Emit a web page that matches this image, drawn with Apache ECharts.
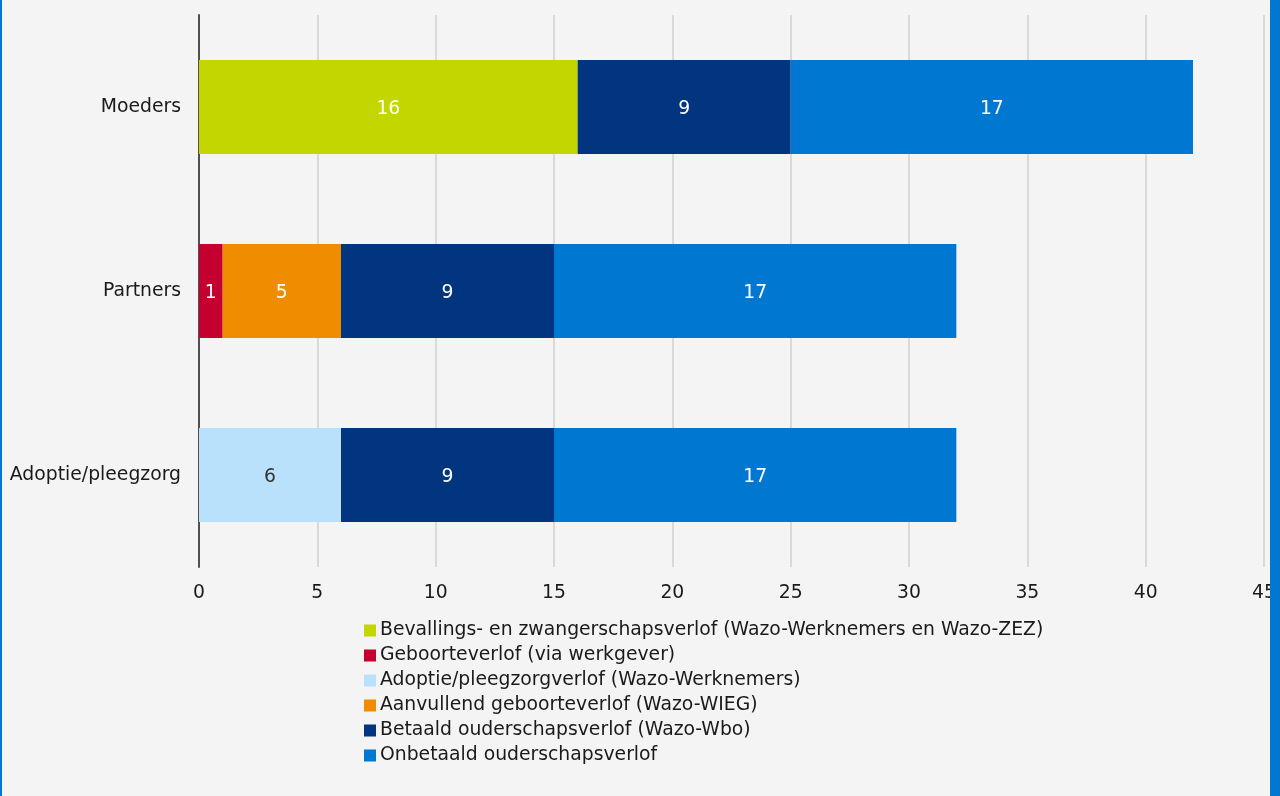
<!DOCTYPE html>
<html>
<head>
<meta charset="utf-8">
<script src="https://cdn.jsdelivr.net/npm/echarts@6/dist/echarts.min.js"></script>
<style>
html,body{margin:0;padding:0;background:#f4f4f4;}
#chart{width:1280px;height:796px;}
</style>
</head>
<body>
<div id="chart"></div>
<script>
const categories = ['Moeders', 'Partners', 'Adoptie/pleegzorg'];
const xTicks = [0, 5, 10, 15, 20, 25, 30, 35, 40, 45];
const seriesNames = [
  'Bevallings- en zwangerschapsverlof (Wazo-Werknemers en Wazo-ZEZ)',
  'Geboorteverlof (via werkgever)',
  'Adoptie/pleegzorgverlof (Wazo-Werknemers)',
  'Aanvullend geboorteverlof (Wazo-WIEG)',
  'Betaald ouderschapsverlof (Wazo-Wbo)',
  'Onbetaald ouderschapsverlof'
];
const bevallings = [16, '-', '-'];
const geboorte = ['-', 1, '-'];
const adoptie = ['-', '-', 6];
const aanvullend = ['-', 5, '-'];
const betaald = [9, 9, 9];
const onbetaald = [17, 17, 17];
const colors = ['#c4d600', '#c3002f', '#b9e1fb', '#f08c00', '#01357f', '#0077d0'];
const labelColors = ['#ffffff', '#ffffff', '#333333', '#ffffff', '#ffffff', '#ffffff'];

const FONT = '"DejaVu Sans", Verdana, sans-serif';
const FS = 18.8;
const dataSets = [bevallings, geboorte, adoptie, aanvullend, betaald, onbetaald];

const chart = echarts.init(document.getElementById('chart'));
chart.setOption({
  backgroundColor: '#f4f4f4',
  animation: false,
  textStyle: { fontFamily: FONT },
  grid: { left: 199, right: 16, top: 15, bottom: 229 },
  xAxis: {
    type: 'value',
    min: xTicks[0],
    max: xTicks[xTicks.length - 1],
    interval: 5,
    axisLine: { show: false },
    axisTick: { show: false },
    axisLabel: { fontSize: FS, color: '#1a1a1a', margin: 17, fontFamily: FONT, showMaxLabel: true },
    splitLine: { show: true, lineStyle: { color: '#d0d0d0', width: 1.5 } }
  },
  yAxis: {
    type: 'category',
    data: categories,
    inverse: true,
    axisLine: { show: true, lineStyle: { color: '#505050', width: 2 } },
    axisTick: { show: false },
    axisLabel: { fontSize: FS, color: '#1a1a1a', margin: 18, fontFamily: FONT, padding: [4, 0, 0, 0] },
    splitLine: { show: false }
  },
  legend: {
    orient: 'vertical',
    left: 364,
    top: 621,
    padding: 0,
    itemWidth: 12,
    itemHeight: 12,
    itemGap: 6,
    icon: 'rect',
    textStyle: { fontSize: FS, color: '#1a1a1a', lineHeight: 18, fontFamily: FONT, padding: [0, 0, 0, -1] },
    data: seriesNames
  },
  graphic: [
    { type: 'rect', z: 100, left: 0, top: 0, shape: { width: 2, height: 796 }, style: { fill: '#0077d0' } },
    { type: 'rect', z: 100, left: 1270, top: 0, shape: { width: 10, height: 796 }, style: { fill: '#0077d0' } }
  ],
  series: seriesNames.map((name, i) => ({
    name: name,
    type: 'bar',
    stack: 'total',
    barCategoryGap: '49%',
    data: dataSets[i],
    itemStyle: { color: colors[i] },
    label: {
      show: true,
      position: 'inside',
      offset: [0, 2],
      color: labelColors[i],
      fontSize: FS,
      fontFamily: FONT
    }
  }))
});
</script>
</body>
</html>
